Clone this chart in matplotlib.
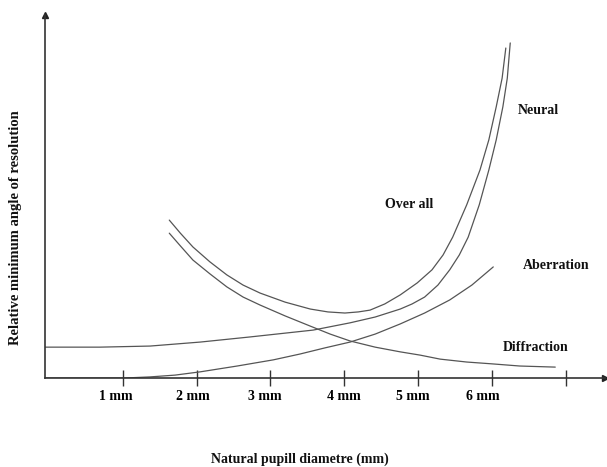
import matplotlib
matplotlib.use("Agg")
import matplotlib.pyplot as plt
from matplotlib.transforms import ScaledTranslation

# ---- data (pupil diameter in mm, relative MAR in arbitrary units) ----
overall_x = [1.63, 1.78, 1.95, 2.18, 2.41, 2.63, 2.86, 3.20, 3.54, 3.78, 4.01, 4.19, 4.35,
             4.55, 4.76, 4.99, 5.19, 5.34, 5.47, 5.66, 5.84, 5.96, 6.06, 6.14, 6.19]
overall_y = [4.35, 3.99, 3.61, 3.20, 2.84, 2.56, 2.34, 2.09, 1.90, 1.82, 1.79, 1.82, 1.87,
             2.04, 2.29, 2.62, 2.98, 3.39, 3.88, 4.77, 5.73, 6.56, 7.47, 8.26, 9.09]

neural_x = [-0.05, 0.69, 1.37, 2.05, 2.72, 3.58, 4.08, 4.42, 4.76, 4.92, 5.09, 5.27, 5.43,
            5.56, 5.68, 5.83, 5.96, 6.06, 6.15, 6.21, 6.25]
neural_y = [0.85, 0.85, 0.88, 0.99, 1.13, 1.32, 1.52, 1.68, 1.90, 2.04, 2.23, 2.56, 2.98,
            3.39, 3.88, 4.77, 5.73, 6.56, 7.47, 8.26, 9.23]

diffraction_x = [1.63, 1.78, 1.95, 2.18, 2.41, 2.63, 2.86, 3.20, 3.54, 3.81, 4.08, 4.42,
                 4.76, 5.03, 5.30, 5.66, 6.00, 6.38, 6.86]
diffraction_y = [3.99, 3.64, 3.25, 2.87, 2.51, 2.23, 2.01, 1.71, 1.43, 1.21, 1.02, 0.85,
                 0.72, 0.63, 0.52, 0.44, 0.39, 0.33, 0.30]

aberration_x = [-0.05, 1.03, 1.37, 1.71, 2.05, 2.55, 3.04, 3.40, 3.74, 4.08, 4.42, 4.76,
                5.09, 5.43, 5.73, 6.02]
aberration_y = [0.00, 0.00, 0.03, 0.08, 0.17, 0.33, 0.50, 0.66, 0.83, 0.99, 1.21, 1.49,
                1.79, 2.15, 2.56, 3.06]

tick_pos = [1, 2, 3, 4, 5, 6, 7]
tick_labels = ["1 mm", "2 mm", "3 mm", "4 mm", "5 mm", "6 mm", ""]

plt.rcParams['font.family'] = ['Liberation Serif', 'DejaVu Serif']

fig = plt.figure(figsize=(6.07, 4.67), dpi=100)
ax = fig.add_axes([45/607, 89/467, 560/607, 363/467])

curve_color = "#555555"
lw = 0.9
for xs, ys in [(overall_x, overall_y), (neural_x, neural_y),
               (diffraction_x, diffraction_y), (aberration_x, aberration_y)]:
    ax.plot(xs, ys, color=curve_color, lw=lw, solid_joinstyle='round', solid_capstyle='round')

ax.set_xlim(-0.054, 7.534)
ax.set_ylim(0, 10)

for s in ['top', 'right']:
    ax.spines[s].set_visible(False)
for s in ['left', 'bottom']:
    ax.spines[s].set_color("#333333")
    ax.spines[s].set_linewidth(1.2)

ax.plot(1, 0, ">", color="#222222", ms=5, transform=ax.transAxes, clip_on=False)
ax.plot(0, 1, "^", color="#222222", ms=4, transform=ax.transAxes, clip_on=False)

ax.set_yticks([])
ax.set_xticks(tick_pos)
ax.set_xticklabels(tick_labels, fontsize=10, fontweight='bold')
ax.tick_params(axis='x', direction='inout', length=11, width=1.0, color="#333333", pad=3)
offsets = [-6.5, -3.5, -5.5, 0, -5, -8.5, 0]
for lab, off in zip(ax.get_xticklabels(), offsets):
    lab.set_transform(lab.get_transform() + ScaledTranslation(off/100, 0, fig.dpi_scale_trans))

txt = dict(fontsize=10, fontweight='bold', ha='center', va='center', color="#111111")
ax.text(6.63, 7.38, "Neural", **txt)
ax.text(4.88, 4.79, "Over all", **txt)
ax.text(6.87, 3.09, "Aberration", **txt)
ax.text(6.60, 0.83, "Diffraction", **txt)

fig.text(16/607, 1 - 228/467, "Relative minimum angle of resolution", rotation=90,
         ha='center', va='center', fontsize=10.5, fontweight='bold', color="#111111")
fig.text(300/607, 1 - 459/467, "Natural pupill diametre (mm)",
         ha='center', va='center', fontsize=10, fontweight='bold', color="#111111")

fig.savefig("out.png", dpi=100)
